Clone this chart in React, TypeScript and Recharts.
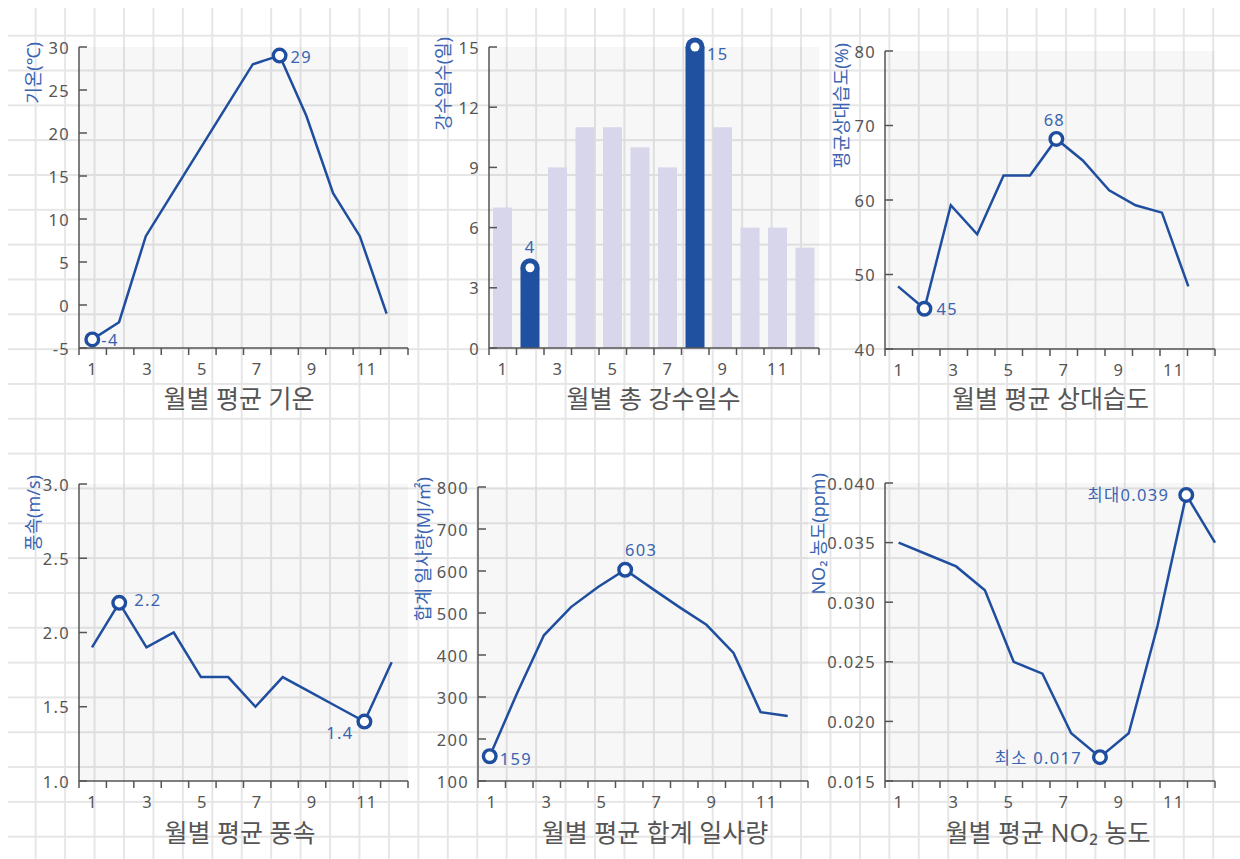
import React from 'react';
import { ComposedChart, Line, Bar, XAxis, YAxis, CartesianGrid } from 'recharts';

// monthly values
const months = [1, 2, 3, 4, 5, 6, 7, 8, 9, 10, 11, 12];
const temperature = [-4, -2, 8, 13, 18, 23, 28, 29, 22, 13, 8, -1];
const rainDays = [7, 4, 9, 11, 11, 10, 9, 15, 11, 6, 6, 5];
const humidity = [48.4, 45.4, 59.3, 55.4, 63.3, 63.3, 68.2, 65.3, 61.3, 59.3, 58.3, 48.4];
const windSpeed = [1.9, 2.2, 1.9, 2.0, 1.7, 1.7, 1.5, 1.7, 1.6, 1.5, 1.4, 1.8];
const solar = [159, 308, 447, 514, 562, 603, 558, 514, 472, 405, 264, 255];
const no2 = [0.035, 0.034, 0.033, 0.031, 0.025, 0.024, 0.019, 0.017, 0.019, 0.028, 0.039, 0.035];

const tempTicks = [-5, 0, 5, 10, 15, 20, 25, 30];
const rainTicks = [0, 3, 6, 9, 12, 15];
const humidityTicks = [40, 50, 60, 70, 80];
const windTicks = [1.0, 1.5, 2.0, 2.5, 3.0];
const solarTicks = [100, 200, 300, 400, 500, 600, 700, 800];
const no2Ticks = [0.015, 0.02, 0.025, 0.03, 0.035, 0.04];

// tick marks sit on the month boundaries, labels on the odd months
const bandTicks = [...months.flatMap((m) => [m - 0.5, m]), 12.5];

const AXIS = '#555555';
const LINE = '#1f4e9f';
const NOTE = '#3a64b2';
const BAR = '#d8d6ea';
const BAR_HI = '#2050a0';
const FONT = "'Noto Sans', 'Noto Sans CJK KR', sans-serif";
const NUM = { fontSize: 16.5, letterSpacing: 1.3 };
const TICK_SIZE = 7;
const TICK_MARGIN = 8;
const Y_W = 80;
const TOP = 20;

type Note = { dx: number; dy: number; anchor: 'start' | 'middle' | 'end'; prefix?: string };

function XTick(props: any) {
  const { x, y, payload } = props;
  const v = payload.value;
  if (v % 1 !== 0) {
    return (
      <line x1={x} x2={x} y1={y - TICK_MARGIN - TICK_SIZE} y2={y - TICK_MARGIN} stroke={AXIS} strokeWidth={1.5} />
    );
  }
  if (v % 2 === 1) {
    return (
      <text x={x} y={y} dy="0.74em" textAnchor="middle" fill={AXIS} {...NUM}>
        {v}
      </text>
    );
  }
  return <g />;
}

function YTick(props: any) {
  const { x, y, payload, fmt } = props;
  return (
    <text x={x} y={y} textAnchor="end" dominantBaseline="central" fill={AXIS} {...NUM}>
      {fmt ? fmt(payload.value) : payload.value}
    </text>
  );
}

function makeDot(values: number[], fmt: (v: number) => string, minNote: Note, maxNote: Note) {
  const lo = values.indexOf(Math.min(...values));
  const hi = values.indexOf(Math.max(...values));
  return (p: any) => {
    const { cx, cy, index } = p;
    const note = index === lo ? minNote : index === hi ? maxNote : null;
    if (!note) return <g key={`d${index}`} />;
    return (
      <g key={`d${index}`}>
        <circle cx={cx} cy={cy} r={6.3} fill="#fff" stroke={LINE} strokeWidth={3.4} />
        <text
          x={cx + note.dx}
          y={cy + note.dy}
          textAnchor={note.anchor}
          dominantBaseline="central"
          fill={NOTE}
          {...NUM}
        >
          {(note.prefix ?? '') + fmt(values[index])}
        </text>
      </g>
    );
  };
}

const rainMin = Math.min(...rainDays);
const rainMax = Math.max(...rainDays);

function RainShape(p: any) {
  const { x, y, width, height, payload } = p;
  const v = payload.value;
  const hot = v === rainMin || v === rainMax;
  const cx = x + width / 2;
  return (
    <g>
      <rect x={x} y={y} width={width} height={height} fill={hot ? BAR_HI : BAR} />
      {hot && <circle cx={cx} cy={y} r={width / 2} fill={BAR_HI} />}
      {hot && <circle cx={cx} cy={y} r={4.5} fill="#fff" />}
      {v === rainMin && (
        <text x={cx} y={y - 21} textAnchor="middle" dominantBaseline="central" fill={NOTE} {...NUM}>
          {v}
        </text>
      )}
      {v === rainMax && (
        <text x={cx + 12} y={y + 6} textAnchor="start" dominantBaseline="central" fill={NOTE} {...NUM}>
          {v}
        </text>
      )}
    </g>
  );
}

interface PanelProps {
  title: string;
  yLabel: string;
  box: [number, number, number, number]; // plot left, right, top, bottom on the page
  titleAt: [number, number];
  labelGap: number;
  labelRise: number;
  yTicks: number[];
  yFmt?: (v: number) => string;
  values: number[];
  lineDomain?: [number, number];
  fmt?: (v: number) => string;
  minNote?: Note;
  maxNote?: Note;
  bars?: boolean;
}

function Panel(props: PanelProps) {
  const { title, yLabel, box, titleAt, labelGap, labelRise, yTicks, yFmt, values, lineDomain, fmt, minNote, maxNote, bars } =
    props;
  const [L, R, T, B] = box;
  const rows = months.map((m, i) => ({ month: m, value: values[i] }));
  return (
    <>
      <div style={{ position: 'absolute', left: L - Y_W - 8, top: T - TOP - 8 }}>
        <ComposedChart
          width={R - L + Y_W + 6}
          height={B - T + TOP + 40}
          data={rows}
          margin={{ top: TOP, right: 6, bottom: 0, left: 0 }}
        >
          <CartesianGrid horizontal={false} vertical={false} fill="rgba(0,0,0,0.03)" stroke="none" />
          <XAxis
            type="number"
            dataKey="month"
            domain={[0.5, 12.5]}
            allowDataOverflow
            ticks={bandTicks}
            interval={0}
            tickLine={false}
            tick={<XTick />}
            tickSize={TICK_SIZE}
            tickMargin={TICK_MARGIN}
            height={40}
            axisLine={{ stroke: AXIS, strokeWidth: 1.5 }}
          />
          <XAxis xAxisId="band" type="category" dataKey="month" hide />
          <XAxis xAxisId="line" type="number" dataKey="month" domain={lineDomain ?? [0.5, 12.5]} hide />
          <YAxis
            type="number"
            domain={[yTicks[0], yTicks[yTicks.length - 1]]}
            ticks={yTicks}
            interval={0}
            width={Y_W}
            tickSize={-8}
            tickMargin={17}
            tick={<YTick fmt={yFmt} />}
            tickLine={{ stroke: AXIS, strokeWidth: 1.5 }}
            axisLine={{ stroke: AXIS, strokeWidth: 1.5 }}
          />
          {bars ? (
            <Bar xAxisId="band" dataKey="value" barSize={19} shape={<RainShape />} isAnimationActive={false} />
          ) : (
            <Line
              xAxisId="line"
              type="linear"
              dataKey="value"
              stroke={LINE}
              strokeWidth={2.5}
              dot={makeDot(values, fmt ?? String, minNote!, maxNote!)}
              activeDot={false}
              isAnimationActive={false}
            />
          )}
          <text
            transform={`translate(${Y_W - labelGap},${TOP - labelRise}) rotate(-90)`}
            textAnchor="end"
            dominantBaseline="central"
            fill={NOTE}
            fontSize={18}
          >
            {yLabel}
          </text>
        </ComposedChart>
      </div>
      <div
        style={{
          position: 'absolute',
          left: titleAt[0] - 8,
          top: titleAt[1] - 8,
          transform: 'translate(-50%, -50%)',
          fontSize: 25,
          lineHeight: 1,
          color: AXIS,
          whiteSpace: 'nowrap',
        }}
      >
        {title}
      </div>
    </>
  );
}

export default function App() {
  return (
    <div
      style={{
        position: 'fixed',
        left: 8,
        top: 8,
        right: 0,
        bottom: 0,
        overflow: 'hidden',
        fontFamily: FONT,
        backgroundColor: '#fff',
        backgroundImage:
          'linear-gradient(to right, #e6e6e6 2px, transparent 2px), linear-gradient(to bottom, #e6e6e6 2px, transparent 2px)',
        backgroundSize: '29.44px 100%, 100% 34.83px',
        backgroundPosition: '26.7px 0, 0 26.7px',
      }}
    >
      <Panel
        title="월별 평균 기온"
        yLabel="기온(℃)"
        box={[79, 408, 47, 348]}
        titleAt={[239, 398]}
        labelGap={46}
        labelRise={5}
        yTicks={tempTicks}
        values={temperature}
        lineDomain={[0.503, 12.8]}
        minNote={{ dx: 9, dy: 0, anchor: 'start' }}
        maxNote={{ dx: 11, dy: 1, anchor: 'start' }}
      />
      <Panel
        title="월별 총 강수일수"
        yLabel="강수일수(일)"
        box={[489, 819, 47, 348]}
        titleAt={[653.5, 398]}
        labelGap={46}
        labelRise={10}
        yTicks={rainTicks}
        values={rainDays}
        bars
      />
      <Panel
        title="월별 평균 상대습도"
        yLabel="평균상대습도(%)"
        box={[885, 1215, 51, 349]}
        titleAt={[1050.5, 398]}
        labelGap={44}
        labelRise={8}
        yTicks={humidityTicks}
        values={humidity}
        lineDomain={[0.507, 13.01]}
        fmt={(v) => String(Math.round(v))}
        minNote={{ dx: 12, dy: 0, anchor: 'start' }}
        maxNote={{ dx: -2, dy: -19, anchor: 'middle' }}
      />
      <Panel
        title="월별 평균 풍속"
        yLabel="풍속(m/s)"
        box={[79, 408, 484, 781]}
        titleAt={[240, 832]}
        labelGap={46}
        labelRise={9}
        yTicks={windTicks}
        yFmt={(v) => v.toFixed(1)}
        values={windSpeed}
        lineDomain={[0.523, 12.6]}
        fmt={(v) => v.toFixed(1)}
        minNote={{ dx: -11, dy: 11, anchor: 'end' }}
        maxNote={{ dx: 15, dy: -3, anchor: 'start' }}
      />
      <Panel
        title="월별 평균 합계 일사량"
        yLabel="합계 일사량(MJ/㎡)"
        box={[478, 808, 487, 781]}
        titleAt={[655, 832]}
        labelGap={55}
        labelRise={10}
        yTicks={solarTicks}
        values={solar}
        lineDomain={[0.567, 12.75]}
        minNote={{ dx: 10, dy: 2, anchor: 'start' }}
        maxNote={{ dx: 16, dy: -20, anchor: 'middle' }}
      />
      <Panel
        title="월별 평균 NO₂ 농도"
        yLabel="NO₂ 농도(ppm)"
        box={[885, 1215, 483, 781]}
        titleAt={[1048, 832]}
        labelGap={67}
        labelRise={10}
        yTicks={no2Ticks}
        yFmt={(v) => v.toFixed(3)}
        values={no2}
        lineDomain={[0.526, 12]}
        fmt={(v) => v.toFixed(3)}
        minNote={{ dx: -18, dy: 0, anchor: 'end', prefix: '최소 ' }}
        maxNote={{ dx: -17, dy: 0, anchor: 'end', prefix: '최대' }}
      />
    </div>
  );
}
